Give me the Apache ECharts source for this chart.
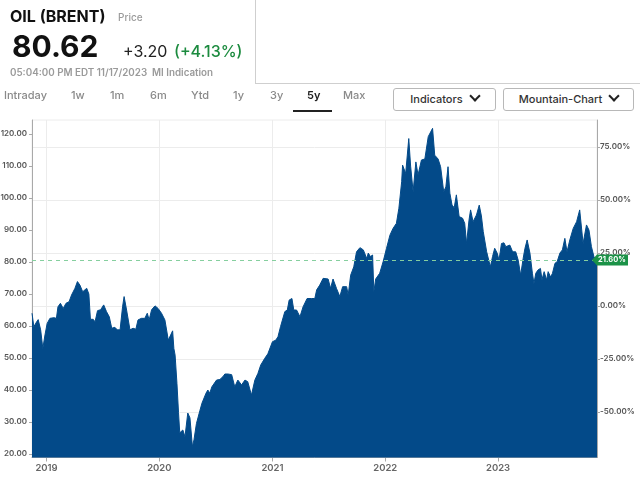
<!DOCTYPE html>
<html>
<head>
<meta charset="utf-8">
<script src="https://cdn.jsdelivr.net/npm/echarts@6/dist/echarts.min.js"></script>
<style>
  html, body { margin: 0; padding: 0; background: #fff; }
  body { width: 640px; height: 481px; position: relative; overflow: hidden; font-family: Inter, "Noto Sans", sans-serif; }
  #chart { position: absolute; left: 0; top: 0; width: 640px; height: 481px; }
  .t { position: absolute; white-space: nowrap; z-index: 2; }
  .title { left: 10px; top: 8px; font-size: 16px; line-height: 16px; font-weight: 700; color: #111; }
  .price-lbl { left: 118px; top: 12px; font-size: 10px; line-height: 10px; color: #9a9a9a; font-weight: 500; }
  .last { left: 12px; top: 31px; font-size: 30px; line-height: 30px; font-weight: 700; color: #111; }
  .chg { left: 123px; top: 43px; font-size: 16px; line-height: 16px; color: #222; }
  .pct { left: 174px; top: 43px; font-size: 16px; line-height: 16px; color: #1c8b3f; font-weight: 500; }
  .stamp { left: 10px; top: 68px; font-size: 9.8px; line-height: 10px; color: #9a9a9a; font-weight: 600; }
  .tab { top: 90px; font-size: 11px; line-height: 11px; color: #8a8a8a; font-weight: 500; }
  .tab.on { color: #222; font-weight: 600; }
  .uline { position: absolute; left: 293px; top: 110px; width: 39px; height: 2px; background: #222; z-index: 2; }
  .box { position: absolute; left: 255px; top: -1px; width: 390px; height: 84px; border-left: 1px solid #cfcfcf; border-bottom: 1px solid #cfcfcf; z-index: 2; }
  .btn { position: absolute; top: 88px; height: 23px; border: 1px solid #b8b8b8; border-radius: 3px; box-sizing: border-box;
         font-size: 11px; line-height: 21px; color: #333; text-align: center; font-weight: 500; z-index: 2; background: #fff; }
  .chev { display: inline-block; width: 6px; height: 6px; border-right: 2px solid #222; border-bottom: 2px solid #222;
          transform: rotate(45deg); margin-left: 8px; position: relative; top: -3px; }
</style>
</head>
<body>
<div id="chart"></div>
<div class="box"></div>
<div class="t title">OIL (BRENT)</div>
<div class="t price-lbl">Price</div>
<div class="t last">80.62</div>
<div class="t chg">+3.20</div>
<div class="t pct">(+4.13%)</div>
<div class="t stamp">05:04:00 PM EDT 11/17/2023&nbsp;&nbsp;MI Indication</div>
<div class="t tab" style="left:4px">Intraday</div>
<div class="t tab" style="left:71px">1w</div>
<div class="t tab" style="left:110px">1m</div>
<div class="t tab" style="left:150px">6m</div>
<div class="t tab" style="left:191px">Ytd</div>
<div class="t tab" style="left:233px">1y</div>
<div class="t tab" style="left:270px">3y</div>
<div class="t tab on" style="left:307px">5y</div>
<div class="t tab" style="left:343px">Max</div>
<div class="uline"></div>
<div class="btn" style="left:393px;width:103px">Indicators<span class="chev"></span></div>
<div class="btn" style="left:503px;width:131px">Mountain-Chart<span class="chev"></span></div>

<script>
// Brent close
const dates = [
  '2018-11-15','2018-11-21','2018-11-30','2018-12-05','2018-12-13','2018-12-20','2018-12-27',
  '2019-01-03','2019-01-12','2019-01-17','2019-01-25','2019-02-02','2019-02-07','2019-02-15','2019-02-24',
  '2019-03-05','2019-03-15','2019-03-23','2019-04-03','2019-04-11','2019-04-19','2019-04-28',
  '2019-05-03','2019-05-11','2019-05-18','2019-05-23','2019-06-01','2019-06-07','2019-06-15','2019-06-25',
  '2019-07-05','2019-07-14','2019-07-23','2019-07-31','2019-08-10','2019-08-18','2019-08-27',
  '2019-09-04','2019-09-09','2019-09-17','2019-09-28','2019-10-08','2019-10-17','2019-10-24',
  '2019-11-04','2019-11-15','2019-11-23','2019-11-29','2019-12-07','2019-12-18','2019-12-28',
  '2020-01-08','2020-01-19','2020-01-30','2020-02-04','2020-02-13','2020-02-17','2020-02-21','2020-02-27',
  '2020-03-03','2020-03-07','2020-03-17','2020-03-24','2020-04-02','2020-04-09','2020-04-17','2020-04-22','2020-04-30',
  '2020-05-11','2020-05-18','2020-05-24','2020-05-31','2020-06-06','2020-06-12','2020-06-19','2020-06-25',
  '2020-07-04','2020-07-15','2020-07-25','2020-07-31','2020-08-10','2020-08-22','2020-09-01','2020-09-11','2020-09-23',
  '2020-10-04','2020-10-13','2020-10-25','2020-11-05','2020-11-15','2020-11-24','2020-12-07','2020-12-17','2020-12-23',
  '2021-01-01','2021-01-12','2021-01-19','2021-01-27','2021-02-10','2021-02-18','2021-02-24',
  '2021-03-05','2021-03-11','2021-03-20','2021-03-31','2021-04-10','2021-04-23','2021-05-07','2021-05-18','2021-05-24',
  '2021-06-03','2021-06-14','2021-06-30','2021-07-08','2021-07-16','2021-07-27','2021-08-07','2021-08-16','2021-08-29',
  '2021-09-03','2021-09-11','2021-09-21','2021-09-30','2021-10-11','2021-10-22','2021-11-02','2021-11-07','2021-11-14',
  '2021-11-21','2021-11-25','2021-12-01','2021-12-14','2021-12-25',
  '2022-01-05','2022-01-16','2022-01-26','2022-02-06','2022-02-14','2022-02-23','2022-02-26',
  '2022-03-08','2022-03-18','2022-03-24','2022-04-01','2022-04-10','2022-04-17','2022-04-28',
  '2022-05-09','2022-05-20','2022-06-03','2022-06-10','2022-06-21','2022-06-29',
  '2022-07-09','2022-07-16','2022-07-23','2022-07-29','2022-08-05','2022-08-12','2022-08-19','2022-08-28',
  '2022-09-08','2022-09-15','2022-09-21','2022-09-29','2022-10-04','2022-10-12','2022-10-23',
  '2022-11-01','2022-11-08','2022-11-14','2022-11-25','2022-11-30','2022-12-07','2022-12-14','2022-12-21','2022-12-29',
  '2023-01-04','2023-01-12','2023-01-20','2023-01-26','2023-02-08','2023-02-17','2023-02-27',
  '2023-03-07','2023-03-15','2023-03-23','2023-03-29','2023-04-05','2023-04-14','2023-04-22','2023-04-27',
  '2023-05-03','2023-05-10','2023-05-18','2023-05-23','2023-05-30','2023-06-07','2023-06-12','2023-06-20','2023-06-26',
  '2023-07-04','2023-07-11','2023-07-20','2023-07-28','2023-08-05','2023-08-12','2023-08-21',
  '2023-09-01','2023-09-12','2023-09-22','2023-10-03','2023-10-14','2023-10-22','2023-10-30','2023-11-07','2023-11-17'
];
const prices = [
  64.0, 59.8, 61.3, 62.0, 58.8, 53.0, 57.2,
  60.8, 62.4, 61.9, 62.6, 62.4, 66.0, 67.1, 65.5,
  67.1, 67.6, 69.7, 71.8, 73.9, 72.8, 70.7,
  70.5, 71.8, 70.0, 62.1, 62.1, 61.3, 64.8, 65.1,
  66.6, 64.5, 62.9, 59.3, 59.6, 58.8, 58.8,
  66.0, 69.2, 65.0, 58.8, 59.3, 59.0, 61.9,
  62.4, 62.4, 64.0, 61.9, 65.1, 66.3, 65.5,
  64.0, 61.9, 55.6, 55.6, 58.5, 53.0, 50.9, 42.0,
  33.0, 26.6, 27.5, 25.4, 32.8, 31.3, 22.3, 24.4, 29.5,
  33.5, 35.9, 35.6, 39.0, 40.0, 39.0, 41.0, 41.6,
  43.1, 43.3, 44.2, 45.0, 45.0, 44.8, 41.0, 43.1, 41.6,
  43.1, 42.6, 38.4, 43.1, 45.2, 47.8, 49.9, 51.3, 51.0,
  55.1, 55.6, 56.7, 59.8, 64.5, 65.0, 68.1,
  68.6, 65.0, 65.0, 62.9, 66.0, 68.6, 68.6, 68.6, 71.3,
  72.8, 74.9, 74.7, 71.8, 74.7, 71.8, 69.2, 72.3, 72.3,
  69.7, 75.9, 78.5, 83.2, 84.5, 83.8, 81.1, 82.8, 81.7,
  82.2, 70.7, 74.7, 76.5, 80.1,
  84.3, 88.4, 90.5, 92.1, 96.8, 105.1, 110.3,
  107.7, 118.6, 110.0, 102.0, 111.3, 107.2, 111.9,
  112.2, 119.2, 121.8, 113.4, 112.2, 109.8,
  102.0, 103.5, 109.8, 101.5, 97.8, 97.0, 101.0, 94.2,
  93.7, 92.1, 85.8, 93.2, 96.3, 92.6, 94.7,
  97.8, 94.4, 89.5, 83.2, 82.6, 78.5, 81.7, 84.3, 82.8,
  80.6, 85.8, 86.0, 84.8, 85.3, 83.2, 83.2,
  80.6, 75.9, 81.1, 84.3, 86.9, 82.8, 76.5, 73.3,
  76.5, 77.5, 78.0, 74.5, 77.0, 74.4, 77.0, 75.3, 76.5,
  79.6, 80.1, 82.8, 83.8, 87.4, 83.2, 86.9,
  90.5, 92.6, 96.3, 85.8, 91.6, 90.0, 84.8, 81.7, 80.62
];

const basePrice = 66.3;          // 0.00% level of the right axis
const priceTicks = [20, 30, 40, 50, 60, 70, 80, 90, 100, 110, 120];
const pctTicks = [-50, -25, 0, 25, 50, 75];
const yearTicks = ['2019-01-01', '2020-01-01', '2021-01-01', '2022-01-01', '2023-01-01'];
const xStart = '2018-11-15';
const xEnd = '2023-11-17';

const lastPrice = prices[prices.length - 1];
const lastTime = Date.parse(dates[dates.length - 1]);
const pctPrices = pctTicks.map((p) => basePrice * (1 + p / 100));
const yearTimes = yearTicks.map((d) => Date.parse(d));
const fmtPct = (v) => ((v / basePrice - 1) * 100).toFixed(2) + '%';

const blue = '#034a89';
const labelFont = { fontFamily: 'Inter, "Noto Sans", sans-serif', fontWeight: 600 };

const chart = echarts.init(document.getElementById('chart'), null, { renderer: 'canvas' });
chart.setOption({
  animation: false,
  grid: {
    left: 32, right: 43, top: 120, bottom: 23.5,
    show: true, borderColor: '#ececec', borderWidth: 1,
    outerBoundsMode: 'none'
  },
  xAxis: {
    type: 'value',
    min: Date.parse(xStart),
    max: Date.parse(xEnd),
    axisLine: { lineStyle: { color: '#a9a9a9' } },
    axisTick: { show: true, length: 4, lineStyle: { color: '#a9a9a9' }, customValues: yearTimes },
    axisLabel: {
      customValues: yearTimes,
      formatter: (v) => String(new Date(v).getUTCFullYear()),
      fontSize: 9.5, color: '#666', margin: 6, ...labelFont
    },
    splitLine: { show: true, lineStyle: { color: '#ececec' } }
  },
  yAxis: [
    {
      type: 'value',
      position: 'left',
      min: 18.9,
      max: 124.4,
      axisLine: { show: true, lineStyle: { color: '#a9a9a9' } },
      axisTick: { show: true, length: 3, lineStyle: { color: '#a9a9a9' }, customValues: priceTicks },
      axisLabel: {
        customValues: priceTicks,
        formatter: (v) => v.toFixed(2),
        fontSize: 8, color: '#555', margin: 5, ...labelFont
      },
      splitLine: { show: false }
    },
    {
      type: 'value',
      position: 'right',
      min: 18.9,
      max: 124.4,
      axisLine: { show: true, lineStyle: { color: '#a9a9a9' } },
      axisTick: { show: true, length: 3, lineStyle: { color: '#a9a9a9' }, customValues: pctPrices },
      axisLabel: {
        customValues: pctPrices,
        formatter: fmtPct,
        fontSize: 8, color: '#555', margin: 3, ...labelFont
      },
      splitLine: { show: true, lineStyle: { color: '#ececec' } }
    }
  ],
  series: [
    {
      type: 'line',
      yAxisIndex: 0,
      data: dates.map((d, i) => [Date.parse(d), prices[i]]),
      showSymbol: false,
      clip: false,
      lineStyle: { color: blue, width: 1 },
      itemStyle: { color: blue },
      areaStyle: { color: blue, opacity: 1, origin: 'start' },
      markLine: {
        silent: true,
        symbol: 'none',
        label: { show: false },
        lineStyle: { color: '#86cf9f', type: [4, 4], width: 1 },
        data: [{ yAxis: lastPrice }]
      },
      markPoint: {
        silent: true,
        symbol: 'path://M0,5 L5,0 L36,0 L36,10 L5,10 Z',
        symbolSize: [36, 11],
        symbolKeepAspect: false,
        symbolOffset: [13, 0],
        itemStyle: { color: '#1b9247' },
        label: {
          show: true, position: 'inside', offset: [2, 0],
          formatter: () => fmtPct(lastPrice),
          color: '#fff', fontSize: 7.5, fontWeight: 700, fontFamily: labelFont.fontFamily
        },
        data: [{ coord: [lastTime, lastPrice] }]
      }
    }
  ]
});
</script>
</body>
</html>
